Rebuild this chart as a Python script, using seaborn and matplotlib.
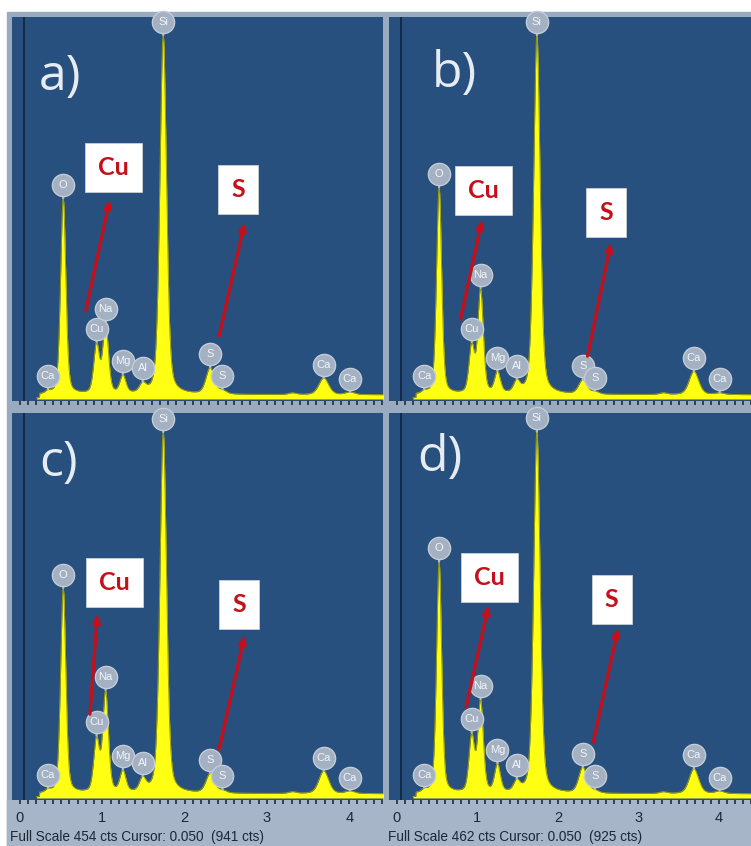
import numpy as np
import matplotlib
matplotlib.use("Agg")
import matplotlib.pyplot as plt
from matplotlib.patches import Rectangle
from matplotlib.transforms import offset_copy
import seaborn as sns

# X-ray lines (energy in keV)
line_names = ["Ca", "O", "Cu", "Na", "Mg", "Al", "Si", "S", "S", "K", "Ca", "Ca"]
line_energy = [0.34, 0.525, 0.93, 1.04, 1.25, 1.49, 1.74, 2.31, 2.46, 3.31, 3.69, 4.01]
line_fwhm = [0.07, 0.075, 0.08, 0.08, 0.085, 0.09, 0.095, 0.12, 0.11, 0.11, 0.14, 0.13]
line_labelled = [True, True, True, True, True, True, True, True, True, False, True, True]

# net peak heights (cts) per spectrum
net_counts_a = [3, 233, 58, 82, 21, 10, 427, 31, 4, 2, 20, 3]
net_counts_b = [3, 246, 56, 123, 25, 13, 427, 17, 3, 2, 28, 2]
net_counts_c = [3, 242, 62, 118, 25, 15, 426, 23, 3, 2, 27, 3]
net_counts_d = [3, 278, 67, 109, 33, 12, 434, 31, 3, 2, 30, 3]
background_cts = 5
full_scale = [454, 454, 454, 462]

panel_letters = ["a)", "b)", "c)", "d)"]
x_ticks = [0, 1, 2, 3, 4]
cursor_kev = 0.05
captions = ["Full Scale 454 cts Cursor: 0.050  (941 cts)",
            "Full Scale 462 cts Cursor: 0.050  (925 cts)"]

W, H = 751, 846
DARK = "#27507f"
FRAME = "#9aabbf"
LOWER = "#a6b5c7"
RED = "#c4101a"


def fig_rect(x0, y0, x1, y1):
    return [x0 / W, 1 - y1 / H, (x1 - x0) / W, (y1 - y0) / H]


def spectrum(e, net):
    y = np.where((e > 0.24) & (e < 4.42), float(background_cts), 0.0)
    for e0, w, h in zip(line_energy, line_fwhm, net):
        s = w / 2.355
        g = np.exp(-0.5 * ((e - e0) / s) ** 2)
        lor = 1 / (1 + ((e - e0) / (w / 2)) ** 2)
        y = y + h * (0.65 * g + 0.35 * lor)
    return y


sns.set_style("dark")
plt.rcParams["font.family"] = ["Liberation Sans", "DejaVu Sans"]

fig = plt.figure(figsize=(W / 100, H / 100), dpi=100, facecolor="white")
fig.add_artist(Rectangle((7 / W, 0), 1, 1 - 12 / H, transform=fig.transFigure,
                         color=FRAME, zorder=-5))
fig.add_artist(Rectangle((7 / W, 0), 1, 1 - 800 / H, transform=fig.transFigure,
                         color=LOWER, zorder=-4))

# pixel boxes of the panels: (x0, top, x1, bottom), zero-keV px, baseline px
panels = [
    dict(box=(12, 17, 383, 401), zero=20, base=399),
    dict(box=(389, 17, 751, 401), zero=397, base=399),
    dict(box=(12, 413, 383, 800), zero=20, base=798),
    dict(box=(389, 413, 751, 800), zero=397, base=798),
]
px_per_kev = 82.3

letter_pos = [(0.073, 0.843), (0.118, 0.851), (0.073, 0.87), (0.078, 0.883)]

annots = [
    dict(cu_box=(1.14, 275), s_box=(2.65, 249), cu_tail=(0.80, 105), cu_head=(1.09, 237),
         s_tail=(2.42, 75), s_head=(2.73, 210)),
    dict(cu_box=(1.08, 248), s_box=(2.60, 222), cu_tail=(0.79, 95), cu_head=(1.06, 213),
         s_tail=(2.37, 51), s_head=(2.66, 186)),
    dict(cu_box=(1.15, 254), s_box=(2.66, 228), cu_tail=(0.85, 99), cu_head=(0.94, 217),
         s_tail=(2.42, 58), s_head=(2.73, 192)),
    dict(cu_box=(1.15, 265), s_box=(2.67, 238), cu_tail=(0.86, 109), cu_head=(1.14, 231),
         s_tail=(2.44, 67), s_head=(2.75, 204)),
]

all_counts = [net_counts_a, net_counts_b, net_counts_c, net_counts_d]
energy = np.arange(0.2, 4.45, 0.004)

for i, (p, net) in enumerate(zip(panels, all_counts)):
    x0, top, x1, bottom = p["box"]
    ax = fig.add_axes(fig_rect(x0, top, x1, bottom))
    ax.set_facecolor(DARK)
    for sp in ax.spines.values():
        sp.set_visible(False)

    fs = full_scale[i]
    ppc = (p["base"] - top) / fs
    ymin = -(bottom - p["base"]) / ppc
    ax.set_ylim(ymin, fs)
    ax.set_xlim((x0 - p["zero"]) / px_per_kev, (x1 - p["zero"]) / px_per_kev)

    yvals = spectrum(energy, net)
    ax.fill_between(energy, 0, yvals, color="#ffff14", lw=0, zorder=2)
    sns.lineplot(x=energy, y=yvals, ax=ax, color="#9c9c00", lw=0.7, zorder=3)
    ax.axvline(cursor_kev, color="#10243c", lw=1.2, zorder=1)

    ax.set_xticks(x_ticks)
    ax.set_xticks(np.arange(0, 4.45, 0.1), minor=True)
    ax.set_yticks([])
    ax.tick_params(axis="x", which="both", direction="out", color="#1d2d44",
                   width=1.2, length=3, bottom=True, top=False, pad=5,
                   labelsize=10.5, labelcolor="#1c2836")
    if i < 2:
        ax.set_xticklabels([])
    ax.set_xlabel("")
    ax.set_ylabel("")
    ax.grid(False)

    # element labels on the peaks
    circ_tr = offset_copy(ax.transData, fig=fig, y=9.5, units="points")
    for name, e0, show in zip(line_names, line_energy, line_labelled):
        if not show:
            continue
        ytop = spectrum(np.array([e0]), net)[0]
        ax.annotate("", xy=(e0, ytop), xytext=(0, 3), textcoords="offset points",
                    arrowprops=dict(arrowstyle="-", color="#aebbc9", lw=1.6,
                                    shrinkA=0, shrinkB=0), zorder=5)
        ax.plot([e0], [ytop], marker="o", ms=16, mfc="#a3b1c2", mec="#c3ccd7",
                mew=1, transform=circ_tr, zorder=6, clip_on=False)
        ax.text(e0, ytop, name, transform=circ_tr, ha="center", va="center",
                fontsize=8, color="#f2f5f8", zorder=7, clip_on=False)

    # panel letter
    lx, ly = letter_pos[i]
    ax.text(lx, ly, panel_letters[i], transform=ax.transAxes, ha="left", va="center",
            fontsize=36, color="#e6ecf2", family="Open Sans", zorder=8)

    # Cu / S call-outs
    a = annots[i]
    for key, label in [("cu", "Cu"), ("s", "S")]:
        ax.annotate("", xy=a[key + "_head"], xytext=a[key + "_tail"],
                    arrowprops=dict(arrowstyle="-|>,head_length=0.45,head_width=0.2",
                                    color=RED, lw=2.4, shrinkA=0, shrinkB=0),
                    zorder=8)
        bx, by = a[key + "_box"]
        ax.text(bx, by, label, ha="center", va="center", fontsize=18,
                fontweight="bold", color=RED, family="Lato", zorder=9,
                bbox=dict(boxstyle="square,pad=0.52", fc="white", ec="#d8d8d8", lw=0.5))

fig.text(10 / W, 1 - 837 / H, captions[0], ha="left", va="center", fontsize=9.8,
         color="#1c2836")
fig.text(388 / W, 1 - 837 / H, captions[1], ha="left", va="center", fontsize=9.8,
         color="#1c2836")

fig.savefig("out.png", dpi=100, facecolor="white")
